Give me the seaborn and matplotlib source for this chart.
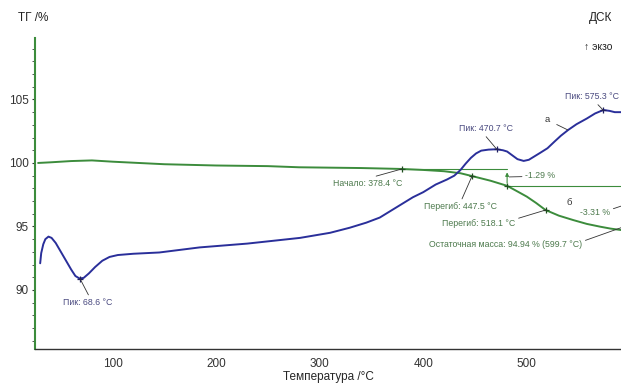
import numpy as np
import pandas as pd
import matplotlib
matplotlib.use("Agg")
import matplotlib.pyplot as plt
from matplotlib.ticker import MultipleLocator
import seaborn as sns

# ---- data ----
tg_temp = [28, 40, 60, 80, 100, 150, 200, 250, 280, 340, 378, 400, 420, 436, 448, 465, 481, 490, 500, 509, 518, 531, 545, 558, 571, 581, 591, 600]
tg_val = [100.0, 100.05, 100.15, 100.2, 100.1, 99.9, 99.8, 99.75, 99.66, 99.6, 99.53, 99.45, 99.35, 99.19, 98.95, 98.6, 98.2, 97.8, 97.35, 96.85, 96.3, 95.85, 95.5, 95.2, 94.98, 94.83, 94.72, 94.62]

dsc_temp = [30, 31, 33, 35, 38, 41, 45, 50, 55, 60, 64, 68, 72, 77, 83, 90, 97, 105, 120, 145, 184, 230, 281, 310, 329, 345, 358, 370, 380, 390,
            400, 412, 423, 430, 436, 441, 446, 451, 456, 463, 471, 477, 481, 486, 491, 497, 502, 507, 513, 520, 527, 533, 540, 548, 558, 566, 574, 580, 585, 591]
dsc_val = [92.1, 92.9, 93.6, 94.0, 94.2, 94.1, 93.7, 93.0, 92.3, 91.6, 91.1, 90.9, 90.95, 91.3, 91.8, 92.3, 92.6, 92.75, 92.85, 92.95, 93.35, 93.65, 94.1, 94.5, 94.9, 95.3, 95.7, 96.3, 96.8, 97.3,
           97.7, 98.3, 98.7, 99.0, 99.45, 99.95, 100.4, 100.75, 100.97, 101.05, 101.08, 101.0, 100.9, 100.6, 100.3, 100.16, 100.25, 100.5, 100.8, 101.16, 101.7, 102.15, 102.6, 103.05, 103.5, 103.9, 104.17, 104.1, 104.0, 104.0]

x_ticks = [100, 200, 300, 400, 500]
y_ticks = [90, 95, 100, 105]

onset_t, onset_v = 379.5, 99.53
step_t, step_v = 481, 98.2
infl1 = (447.2, 98.98)
infl2 = (518.4, 96.3)
peak1 = (68.4, 90.9)
peak2 = (471.0, 101.08)
peak3 = (573.7, 104.17)

tg_df = pd.DataFrame({"T": tg_temp, "v": tg_val})
dsc_df = pd.DataFrame({"T": dsc_temp, "v": dsc_val})

sns.set_style("white")
plt.rcParams["font.family"] = ["Liberation Sans", "DejaVu Sans"]

GREEN = "#3c8c3c"
BLUE = "#2a2f9a"
GTXT = "#4d7a4d"
BTXT = "#4a4a80"

fig = plt.figure(figsize=(6.21, 3.83), dpi=100)
ax = fig.add_axes([35 / 621, 34 / 383, (621 - 35) / 621, 311 / 383])
ax2 = ax.twinx()

XL = (25, 591)
YL = (85.35, 109.84)

sns.lineplot(data=tg_df, x="T", y="v", ax=ax, color=GREEN, lw=1.4)
sns.lineplot(data=dsc_df, x="T", y="v", ax=ax2, color=BLUE, lw=1.4)

for a in (ax, ax2):
    a.set_xlim(*XL)
    a.set_ylim(*YL)
ax2.set_yticks([])
ax2.set_ylabel("")
for s in ax2.spines.values():
    s.set_visible(False)

ax.set_xticks(x_ticks)
ax.set_yticks(y_ticks)
ax.xaxis.set_minor_locator(MultipleLocator(20))
ax.yaxis.set_minor_locator(MultipleLocator(1))
ax.tick_params(axis="both", which="major", labelsize=8.5, length=3, width=0.8, colors="#333333")
ax.tick_params(axis="x", which="both", direction="inout", length=3, pad=5)
ax.tick_params(axis="y", which="both", direction="out", length=2.5, pad=2)
ax.tick_params(axis="both", which="minor", length=2, width=0.7, color="#555555")
ax.spines["top"].set_visible(False)
ax.spines["right"].set_visible(False)
ax.spines["left"].set_color(GREEN)
ax.spines["left"].set_linewidth(1.5)
ax.spines["bottom"].set_color("#333333")
ax.spines["bottom"].set_linewidth(1.0)
ax.set_xlabel("Температура /°C", fontsize=8.5, labelpad=1)
ax.set_ylabel("")

fs = 6.3
# TG construction lines
ax.plot([onset_t, step_t], [onset_v, onset_v], color=GREEN, lw=0.8)
ax.plot([step_t, XL[1]], [step_v, step_v], color=GREEN, lw=0.8)
ax.annotate("", xy=(step_t, onset_v - 0.05), xytext=(step_t, step_v),
            arrowprops=dict(arrowstyle="-|>", color=GREEN, lw=0.8, mutation_scale=5))
for (t, v) in [(onset_t, onset_v), infl1, (step_t, step_v), infl2]:
    ax.plot([t], [v], marker="+", color="#1f4f1f", ms=5, mew=0.9)
for (t, v) in [peak1, peak2, peak3]:
    ax2.plot([t], [v], marker="+", color="#1f1f5f", ms=5, mew=0.9)

# TG annotations
ax.annotate("Начало: 378.4 °C", xy=(onset_t, onset_v), xytext=(313, 98.35),
            fontsize=fs, color=GTXT, va="center", ha="left",
            arrowprops=dict(arrowstyle="-", color="#333333", lw=0.6, shrinkA=0, shrinkB=0,
                            relpos=(0.45, 1.0)))
ax.annotate("Перегиб: 447.5 °C", xy=infl1, xytext=(400.8, 96.56),
            fontsize=fs, color=GTXT, va="center", ha="left",
            arrowprops=dict(arrowstyle="-", color="#333333", lw=0.6, shrinkA=0, shrinkB=0,
                            relpos=(0.5, 1.0)))
ax.annotate("Перегиб: 518.1 °C", xy=infl2, xytext=(418.2, 95.2),
            fontsize=fs, color=GTXT, va="center", ha="left",
            arrowprops=dict(arrowstyle="-", color="#333333", lw=0.6, shrinkA=0, shrinkB=0,
                            relpos=(0.95, 0.9)))
ax.annotate("-1.29 %", xy=(step_t + 2, 98.9), xytext=(498.5, 99.0),
            fontsize=fs, color=GTXT, va="center", ha="left",
            arrowprops=dict(arrowstyle="-", color="#333333", lw=0.6, shrinkA=0, shrinkB=0,
                            relpos=(0.0, 0.4)))
ax.text(540.9, 96.85, "б", fontsize=fs + 0.5, color="#333333", ha="center", va="center")
ax.annotate("-3.31 %", xy=(591, 96.6), xytext=(551.5, 96.1),
            fontsize=fs, color=GTXT, va="center", ha="left",
            arrowprops=dict(arrowstyle="-", color="#333333", lw=0.6, shrinkA=0, shrinkB=0,
                            relpos=(1.0, 0.8)))
ax.annotate("Остаточная масса: 94.94 % (599.7 °C)", xy=(591, 94.9), xytext=(405.6, 93.6),
            fontsize=fs, color=GTXT, va="center", ha="left",
            arrowprops=dict(arrowstyle="-", color="#333333", lw=0.6, shrinkA=0, shrinkB=0,
                            relpos=(1.0, 0.8)))

# DSC annotations
ax2.annotate("Пик: 68.6 °C", xy=peak1, xytext=(52, 89.0),
             fontsize=fs, color=BTXT, va="center", ha="left",
             arrowprops=dict(arrowstyle="-", color="#333333", lw=0.6, shrinkA=0, shrinkB=0,
                             relpos=(0.55, 1.0)))
ax2.annotate("Пик: 470.7 °C", xy=peak2, xytext=(434.6, 102.68),
             fontsize=fs, color=BTXT, va="center", ha="left",
             arrowprops=dict(arrowstyle="-", color="#333333", lw=0.6, shrinkA=0, shrinkB=0,
                             relpos=(0.45, 0.0)))
ax2.annotate("Пик: 575.3 °C", xy=peak3, xytext=(537, 105.2),
             fontsize=fs, color=BTXT, va="center", ha="left",
             arrowprops=dict(arrowstyle="-", color="#333333", lw=0.6, shrinkA=0, shrinkB=0,
                             relpos=(0.55, 0.0)))
ax2.annotate("а", xy=(539.6, 102.6), xytext=(519.6, 103.4),
             fontsize=fs + 0.5, color="#333333", va="center", ha="center",
             arrowprops=dict(arrowstyle="-", color="#333333", lw=0.6, shrinkA=3, shrinkB=0))

# header texts
fig.text(18 / 621, 1 - 18 / 383, "ТГ /%", fontsize=8.5, color="#222222", ha="left", va="center")
fig.text(612 / 621, 1 - 18 / 383, "ДСК", fontsize=8.5, color="#222222", ha="right", va="center")
fig.text(612 / 621, 1 - 47 / 383, "↑ экзо", fontsize=7.5, color="#222222", ha="right", va="center")

fig.savefig("out.png", dpi=100)
